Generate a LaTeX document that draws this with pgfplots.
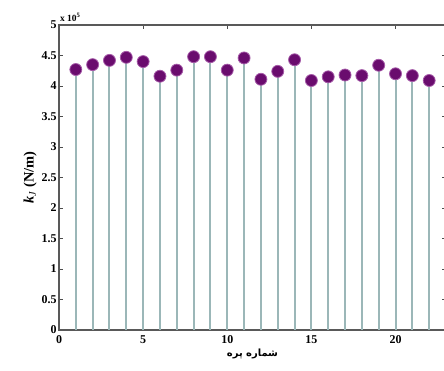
\documentclass[border=0pt]{standalone}
\usepackage{pgfplots}
\usepackage{pgfplotstable}
\pgfplotsset{compat=1.18}
\usepackage{fontspec}
\setmainfont{Liberation Serif}
\newfontfamily\arabicfont[Script=Arabic]{DejaVu Sans}
\TeXXeTstate=1
\definecolor{stemc}{HTML}{9BB7B8}
\definecolor{markf}{HTML}{6A0C6E}
\definecolor{markd}{HTML}{A55AA8}
\pgfplotstableread{
x y
1 4.27
2 4.35
3 4.42
4 4.47
5 4.40
6 4.16
7 4.26
8 4.48
9 4.48
10 4.26
11 4.46
12 4.11
13 4.24
14 4.43
15 4.09
16 4.15
17 4.18
18 4.17
19 4.34
20 4.20
21 4.17
22 4.09
}\datatable
\begin{document}
\begin{tikzpicture}[x=1bp,y=1bp]
\begin{axis}[
  name=ax,
  scale only axis,
  width=387bp, height=305bp,
  xmin=0, xmax=23, ymin=0, ymax=5,
  xtick={0,5,10,15,20},
  ytick={0,0.5,1,1.5,2,2.5,3,3.5,4,4.5,5},
  yticklabels={0,0.5,1,1.5,2,2.5,3,3.5,4,4.5,5},
  tick align=inside,
  major tick length=4bp,
  tick style={line width=0.8pt, black!70},
  axis line style={line width=1.1pt, black!65},
  /pgf/number format/assume math mode=true,
  tick label style={font=\fontsize{12}{13}\selectfont\bfseries},
  xticklabel style={yshift=-2bp},
  yticklabel style={xshift=1bp},
  xlabel={\arabicfont\bfseries\fontsize{10}{12}\selectfont\beginR شماره پره\endR},
  ylabel={\fontsize{14.5}{16}\selectfont\bfseries\textit{k}$_{\mathit{J}}$ (N/m)},
  xlabel style={yshift=1bp},
  ylabel style={yshift=-2bp},
  clip=false,
]
\addplot[ycomb, draw=stemc, line width=2pt] table[x=x,y=y] {\datatable};
\addplot[only marks, mark=*, mark size=6bp, mark options={fill=markf, draw=markd, line width=0.8pt}] table[x=x,y=y] {\datatable};
\node[anchor=south west, font=\fontsize{9.5}{10}\selectfont\bfseries, inner sep=0pt] at (axis cs:0.05,5.06) {x 10$^{\mathbf{5}}$};
\end{axis}
\pgfresetboundingbox
\path[use as bounding box] ([xshift=-59bp,yshift=-41bp]ax.south west) rectangle ([xshift=385bp,yshift=25bp]ax.north west);
\end{tikzpicture}
\end{document}
